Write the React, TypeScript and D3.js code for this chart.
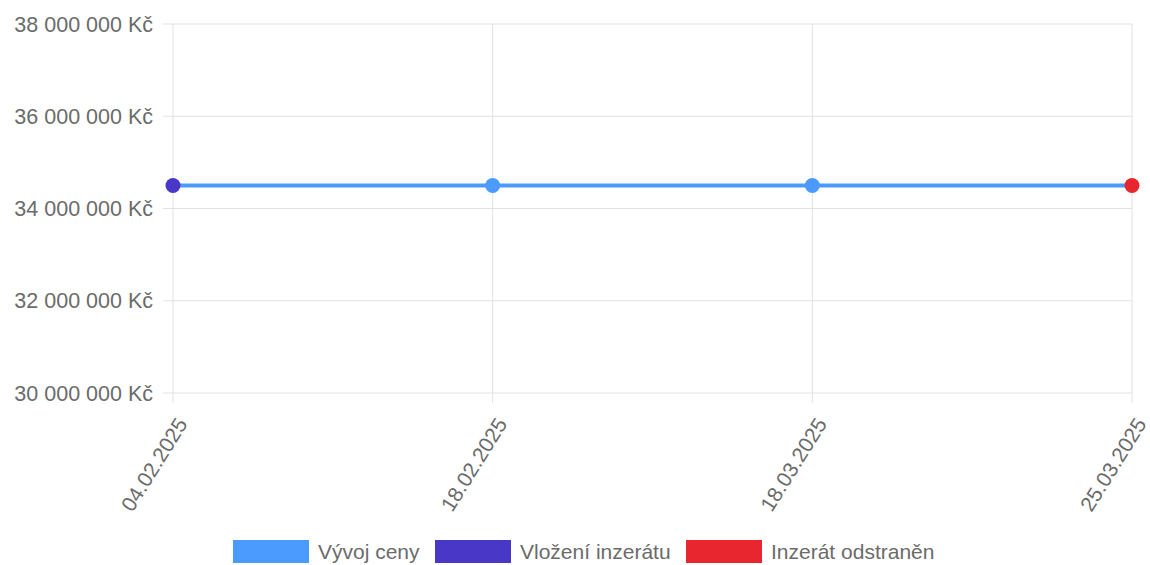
import React from "react";
import * as d3 from "d3";

const dates = ["04.02.2025", "18.02.2025", "18.03.2025", "25.03.2025"];
const prices = [34500000, 34500000, 34500000, 34500000];
const pointColors = ["#4937c8", "#4b9bff", "#4b9bff", "#e8262f"];
const yTicks = [30000000, 32000000, 34000000, 36000000, 38000000];
const legendItems = [
  { label: "Vývoj ceny", color: "#4b9bff" },
  { label: "Vložení inzerátu", color: "#4937c8" },
  { label: "Inzerát odstraněn", color: "#e8262f" },
];

const W = 1150;
const H = 565;
const left = 173;
const right = 1132;
const top = 24;
const bottom = 393;
const font = "'Liberation Sans', Arial, sans-serif";
const textColor = "#6b6b6b";
const gridColor = "#e2e2e2";

const fmt = (v: number) =>
  d3.format(",")(v).replace(/,/g, "\u00a0") + "\u00a0Kč";

export default function App() {
  const x = d3.scalePoint<string>().domain(dates).range([left, right]);
  const y = d3.scaleLinear().domain([30000000, 38000000]).range([bottom, top]);
  const line = d3
    .line<number>()
    .x((_, i) => x(dates[i]) as number)
    .y((d) => y(d));

  const legendX = [233, 435, 686];

  return (
    <svg
      width={W}
      height={H}
      style={{ position: "absolute", left: 0, top: 0, fontFamily: font }}
    >
      {yTicks.map((t) => (
        <g key={t}>
          <line x1={left - 10} x2={right} y1={y(t)} y2={y(t)} stroke={gridColor} strokeWidth={1} />
          <text
            x={153}
            y={y(t)}
            dy="0.35em"
            textAnchor="end"
            fontSize={21.5}
            fill={textColor}
          >
            {fmt(t)}
          </text>
        </g>
      ))}
      {dates.map((d) => (
        <g key={d}>
          <line x1={x(d)} x2={x(d)} y1={top} y2={bottom + 10} stroke={gridColor} strokeWidth={1} />
          <text
            transform={`translate(${(x(d) as number) + 9},${420}) rotate(-58)`}
            dy="0.35em"
            textAnchor="end"
            fontSize={21}
            fill={textColor}
          >
            {d}
          </text>
        </g>
      ))}
      <path d={line(prices) || ""} fill="none" stroke="#4b9bff" strokeWidth={4} />
      {prices.map((p, i) => (
        <circle key={i} cx={x(dates[i])} cy={y(p)} r={7.5} fill={pointColors[i]} />
      ))}
      {legendItems.map((item, i) => (
        <g key={item.label}>
          <rect x={legendX[i]} y={540} width={76} height={23} fill={item.color} />
          <text x={legendX[i] + 85} y={552} dy="0.35em" fontSize={21} fill={textColor}>
            {item.label}
          </text>
        </g>
      ))}
    </svg>
  );
}
